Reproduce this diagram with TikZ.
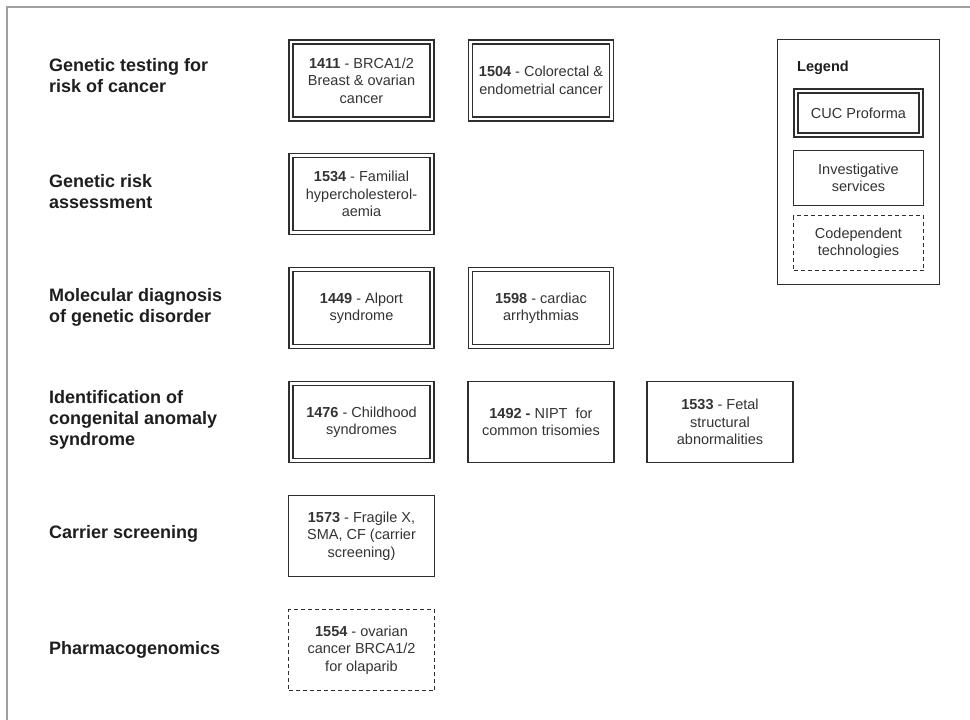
\documentclass[tikz,border=0pt]{standalone}
\usepackage{fontspec}
\setmainfont{Liberation Sans}
\definecolor{txt}{HTML}{333333}
\definecolor{lbl}{HTML}{1E1E1E}
\definecolor{edge}{HTML}{2E2E2E}
\definecolor{framec}{HTML}{A0A0A0}
\begin{document}
\begin{tikzpicture}[x=1pt,y=-1pt,
  every node/.style={font=\fontsize{14.5}{17.5}\selectfont, text=txt, align=center},
  lab/.style={font=\fontsize{18}{21}\selectfont\bfseries, text=lbl, anchor=west, align=left, inner sep=0pt},
  sbox/.style={draw=edge, line width=1.5pt, minimum width=146pt, minimum height=81pt, inner sep=0pt},
  dbox/.style={draw=edge, double=white, double distance=2.6pt, line width=1.5pt, minimum width=141pt, minimum height=77pt, inner sep=0pt},
  cbox/.style={sbox, dash pattern=on 4pt off 3pt},
  frameline/.style={draw=framec, line width=1.5pt}
]
\useasboundingbox (0,0) rectangle (970,720);
\draw[frameline] (7,721) -- (7,7) -- (971,7);

% row labels
\node[lab] (l1) at (49,76) {Genetic testing for\\risk of cancer};
\node[lab] (l2) at (49,191.5) {Genetic risk\\assessment};
\node[lab] (l3) at (49,307.5) {Molecular diagnosis\\of genetic disorder};
\node[lab] (l4) at (49,420) {Identification of\\congenital anomaly\\syndrome};
\node[lab] (l5) at (49,534) {Carrier screening};
\node[lab] (l6) at (49,650) {Pharmacogenomics};

% boxes
\node[dbox] (b1411) at (361.5,80.5) {\textbf{1411} - BRCA1/2\\Breast \& ovarian\\cancer};
\node[dbox] (b1504) at (541,80.5) {\textbf{1504} - Colorectal \&\\endometrial cancer};
\node[dbox] (b1534) at (361.5,194) {\textbf{1534} - Familial\\hypercholesterol-\\aemia};
\node[dbox] (b1449) at (361.5,308) {\textbf{1449} - Alport\\syndrome};
\node[dbox] (b1598) at (541,308) {\textbf{1598} - cardiac\\arrhythmias};
\node[dbox] (b1476) at (361.5,422) {\textbf{1476} - Childhood\\syndromes};
\node[sbox] (b1492) at (541,422) {\textbf{1492 -} NIPT\ \ for\\common trisomies};
\node[sbox] (b1533) at (720,422) {\textbf{1533} - Fetal\\structural\\abnormalities};
\node[sbox] (b1573) at (361.5,536) {\textbf{1573} - Fragile X,\\SMA, CF (carrier\\screening)};
\node[cbox] (b1554) at (361.5,650) {\textbf{1554} - ovarian\\cancer BRCA1/2\\for olaparib};

% legend
\node[draw=edge, line width=1.5pt, minimum width=162pt, minimum height=245pt, inner sep=0pt] (leg) at (858.5,162) {};
\node[anchor=west, inner sep=0pt, font=\fontsize{14.5}{17.5}\selectfont\bfseries, text=lbl] (legt) at (797,68) {Legend};
\node[dbox, minimum width=125pt, minimum height=44pt] (lg1) at (858.5,113) {CUC Proforma};
\node[sbox, minimum width=130pt, minimum height=55pt] (lg2) at (858.5,178) {Investigative\\services};
\node[cbox, minimum width=130pt, minimum height=55pt] (lg3) at (858.5,243) {Codependent\\technologies};
\end{tikzpicture}
\end{document}
